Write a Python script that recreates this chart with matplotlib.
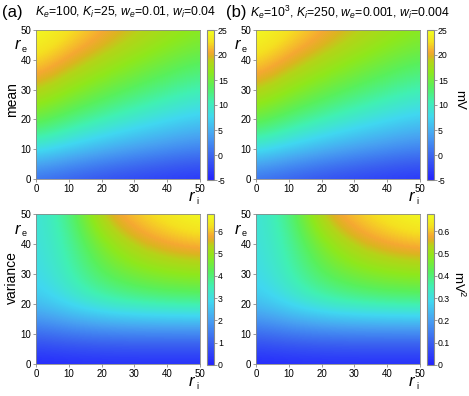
import numpy as np
import matplotlib
matplotlib.use("Agg")
import matplotlib.pyplot as plt
from matplotlib.colors import LinearSegmentedColormap
from matplotlib.ticker import FuncFormatter

plt.rcParams['font.family'] = ['Liberation Sans', 'DejaVu Sans']
plt.rcParams['mathtext.fontset'] = 'custom'
plt.rcParams['mathtext.rm'] = 'Liberation Sans'
plt.rcParams['mathtext.it'] = 'Liberation Sans:italic'
plt.rcParams['axes.unicode_minus'] = False

# grid of rates (r_i along x, r_e along y)
rates = [0, 10, 20, 30, 40, 50]

# mean depolarisation (mV), rows = r_e 0..50, cols = r_i 0..50
mean_a = [[0.0, -1.2, -2.2, -3.0, -3.6, -4.1],
          [8.7, 6.8, 5.2, 3.9, 2.8, 1.9],
          [14.8, 12.6, 10.8, 9.2, 7.9, 6.7],
          [19.2, 16.9, 15.0, 13.3, 11.9, 10.6],
          [22.6, 20.3, 18.4, 16.7, 15.1, 13.8],
          [25.0, 23.1, 21.1, 19.4, 17.9, 16.5]]
mean_b = [[0.0, -1.2, -2.2, -3.0, -3.6, -4.1],
          [8.7, 6.8, 5.2, 3.9, 2.8, 1.9],
          [14.8, 12.6, 10.8, 9.2, 7.9, 6.7],
          [19.2, 16.9, 15.0, 13.3, 11.9, 10.6],
          [22.6, 20.3, 18.4, 16.7, 15.1, 13.8],
          [25.0, 23.1, 21.1, 19.4, 17.9, 16.5]]

# variance (mV^2)
var_a = [[0.0, 0.05, 0.07, 0.08, 0.08, 0.08],
         [1.15, 1.35, 1.45, 1.5, 1.5, 1.5],
         [2.5, 3.0, 3.4, 3.6, 3.7, 3.75],
         [2.85, 3.5, 4.2, 4.6, 4.85, 4.95],
         [3.0, 3.6, 4.7, 5.45, 5.8, 5.95],
         [3.05, 3.8, 5.6, 6.1, 6.45, 6.77]]
var_b = [[0.0, 0.005, 0.007, 0.008, 0.008, 0.008],
         [0.115, 0.135, 0.145, 0.15, 0.15, 0.15],
         [0.25, 0.30, 0.34, 0.36, 0.37, 0.375],
         [0.285, 0.35, 0.42, 0.46, 0.485, 0.495],
         [0.30, 0.36, 0.47, 0.545, 0.58, 0.595],
         [0.305, 0.38, 0.56, 0.61, 0.645, 0.677]]

titles = [r'$K_e$=100, $K_i$=25, $w_e$=0.01, $w_i$=0.04',
          r'$K_e$=10$^3$, $K_i$=250, $w_e$=0.001, $w_i$=0.004']

cmap = LinearSegmentedColormap.from_list('rb', [
    (0.00, '#2323ff'), (0.15, '#3a60f0'), (0.30, '#48a2f2'),
    (0.42, '#40d8f0'), (0.52, '#40f0b4'), (0.62, '#58f05c'),
    (0.72, '#8ee81c'), (0.79, '#b4d418'), (0.825, '#dcb420'),
    (0.855, '#f5a832'), (0.92, '#f5e020'), (1.00, '#f0ff20')])

W, H = 469, 396
fig = plt.figure(figsize=(W / 100, H / 100), dpi=100)

def px(x0, y0, x1, y1):
    return [x0 / W, 1 - y1 / H, (x1 - x0) / W, (y1 - y0) / H]

panels = [
    (mean_a, -5, 25, np.arange(-5, 26, 5), 36, 30, 179, 207, None),
    (mean_b, -5, 25, np.arange(-5, 26, 5), 256, 30, 179, 427, 'mV'),
    (var_a, 0, 6.77, np.arange(0, 7, 1), 36, 214, 364, 207, None),
    (var_b, 0, 0.677, np.round(np.arange(0, 0.7, 0.1), 1), 256, 214, 364, 427, 'mV$^2$'),
]

gray = '#8a8a8a'
for data, vmin, vmax, cticks, x0, y0, y1, cx, unit in panels:
    ax = fig.add_axes(px(x0, y0, x0 + 164, y1))
    ax.imshow(np.array(data), origin='lower', extent=[-5, 55, -5, 55],
              cmap=cmap, vmin=vmin, vmax=vmax, aspect='auto',
              interpolation='bicubic', interpolation_stage='data')
    ax.set_xlim(0, 50)
    ax.set_ylim(0, 50)
    ax.set_xticks(rates)
    ax.set_yticks(rates)
    ax.tick_params(labelsize=7, length=2.5, width=0.6, color=gray, pad=1)
    for s in ax.spines.values():
        s.set_color(gray)
        s.set_linewidth(0.6)
    ax.text(-0.135, 0.87, r'$r$', transform=ax.transAxes, fontsize=12)
    ax.text(-0.085, 0.85, 'e', transform=ax.transAxes, fontsize=6.5)
    ax.text(0.925, -0.145, r'$r$', transform=ax.transAxes, fontsize=12)
    ax.text(0.975, -0.165, 'i', transform=ax.transAxes, fontsize=6.5)

    cax = fig.add_axes(px(cx, y0, cx + 7, y1 + 1))
    sm = plt.cm.ScalarMappable(cmap=cmap, norm=plt.Normalize(vmin, vmax))
    cb = fig.colorbar(sm, cax=cax, ticks=cticks,
                      format=FuncFormatter(lambda v, p: '%g' % v))
    cb.outline.set_edgecolor(gray)
    cb.outline.set_linewidth(0.8)
    cax.tick_params(labelsize=6.3, length=2, width=0.6, color=gray, pad=0.8)
    if unit:
        fig.text((cx + 32) / W, 1 - ((y0 + y1) / 2 - 5) / H, unit,
                 rotation=-90, fontsize=9.5, ha='center', va='center')

fig.text(12 / W, 1 - 100 / H, 'mean', rotation=90, fontsize=10,
         ha='center', va='center')
fig.text(12 / W, 1 - 278 / H, 'variance', rotation=90, fontsize=10,
         ha='center', va='center')

fig.text(2 / W, 1 - 12 / H, '(a)', fontsize=12, va='center')
fig.text(35 / W, 1 - 12 / H, titles[0], fontsize=8.8, va='center')
fig.text(226 / W, 1 - 12 / H, '(b)', fontsize=12, va='center')
fig.text(250 / W, 1 - 12 / H, titles[1], fontsize=8.8, va='center')

fig.savefig('out.png', dpi=100)
